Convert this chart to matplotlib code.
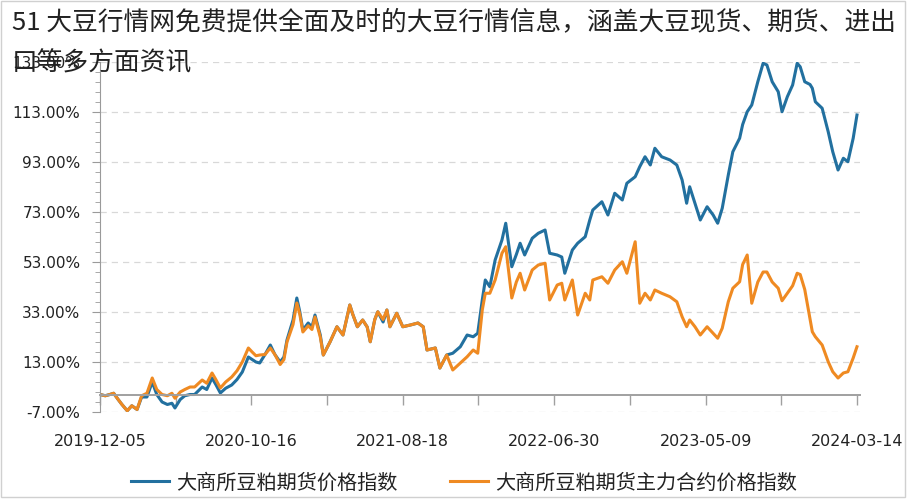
import matplotlib.pyplot as plt
from matplotlib.patches import Rectangle
import numpy as np

plt.rcParams['font.family'] = ['DejaVu Sans', 'Noto Sans CJK SC']

title = "51 大豆行情网免费提供全面及时的大豆行情信息，涵盖大豆现货、期货、进出\n口等多方面资讯"
label_index = "大商所豆粕期货价格指数"
label_main = "大商所豆粕期货主力合约价格指数"
date_labels = ['2019-12-05', '2020-10-16', '2021-08-18', '2022-06-30', '2023-05-09', '2024-03-14']

# trading-day position (0..1000 across the period)
day = [0, 7, 13, 18, 24, 29, 36, 42, 49, 55, 62, 69, 75, 82, 89, 95, 99, 106, 112, 119,
       125, 135, 141, 148, 153, 159, 166, 174, 181, 188, 196, 201, 206, 211, 218, 225, 231, 238, 243, 247,
       255, 260, 264, 268, 275, 280, 284, 291, 295, 304, 313, 321, 330, 334, 340, 347, 353, 357, 363, 367,
       374, 379, 383, 392, 400, 410, 420, 427, 432, 443, 449, 458, 466, 476, 485, 493, 499, 505, 509, 515,
       522, 531, 536, 544, 550, 555, 561, 571, 579, 588, 594, 604, 610, 614, 624, 631, 641, 647, 651, 663,
       671, 680, 690, 696, 707, 713, 720, 727, 733, 742, 753, 762, 769, 775, 779, 786, 793, 802, 810, 816,
       822, 830, 836, 845, 849, 855, 861, 869, 876, 881, 888, 896, 901, 908, 915, 921, 925, 931, 938, 941,
       945, 954, 962, 968, 975, 982, 988, 995, 1000]

# 大商所豆粕期货价格指数 (%)
index_pct = [0, -0.5, 0, 0.5, -2, -4, -6.5, -4.5, -6, -1, -1, 5, 0, -3, -4, -3.5, -5.4, -2, -0.5, 0,
             0, 3, 2, 6.6, 4, 0.6, 2.5, 3.8, 6, 9, 15, 14, 13, 12.6, 16, 19.8, 16, 13, 15, 21.8,
             29.8, 38.6, 33, 25.8, 28.6, 27, 31.8, 23.8, 15.8, 21.1, 27.1, 23.8, 35.8, 32, 27.1, 29.8, 27, 21.1, 30, 33.1,
             29, 33.8, 27.1, 32.5, 27.1, 27.8, 28.6, 27.1, 17.8, 18.6, 10.6, 15.8, 16.5, 19.1, 23.8, 23.1, 24.5, 37.8, 45.8, 43.1,
             53.8, 61.8, 68.5, 51.1, 56, 60.5, 55.8, 62.5, 64.5, 65.8, 56.5, 55.8, 55, 48.5, 57.8, 60.5, 63.1, 69.8, 73.8, 77.1,
             71.8, 80.5, 77.8, 84.5, 87.1, 91.1, 95.1, 91.8, 98.5, 95.1, 93.8, 91.8, 85.8, 76.5, 83.1, 76.5, 69.8, 75.1, 71.8, 68.5,
             74.5, 87.8, 97.1, 102.5, 108, 113.1, 115.8, 125.1, 132.5, 131.8, 125.1, 121.1, 113.1, 119.1, 123.8, 132.5, 131.1, 125.1, 124, 122.5,
             117.1, 114.5, 105.1, 97.1, 89.8, 94.5, 93.1, 102.5, 111.8]

# 大商所豆粕期货主力合约价格指数 (%)
main_pct = [0, -0.5, 0, 0.5, -2, -4, -6.5, -4.5, -6, -0.5, 0.5, 6.6, 2, 0, -0.5, 0.5, -1.5, 1, 2, 3,
            3, 5.8, 4.5, 8.6, 6, 2.6, 5, 7, 9.5, 13, 18.6, 17, 15.5, 15.8, 16, 18.6, 16, 12, 14, 21,
            28, 36.6, 32, 25, 27.5, 26, 31, 23, 15.8, 21.1, 27.1, 23.8, 35.8, 32, 27.1, 29.8, 27, 21.1, 30, 33.1,
            30, 33.8, 27.1, 32.5, 27.1, 27.8, 28.6, 27.1, 17.8, 18.6, 10.6, 15.8, 9.8, 12.6, 15.1, 17.8, 16.5, 33.8, 40.5, 40.5,
            45.8, 56.5, 59.1, 38.6, 45, 48.5, 41.8, 49.8, 51.8, 52.5, 37.8, 43.8, 44.5, 37.8, 45.8, 31.8, 40.5, 37.8, 45.8, 47.1,
            44.5, 49.8, 53.1, 48.5, 61.1, 36.5, 40.5, 37.8, 41.8, 40.5, 39.1, 37.1, 31.1, 27.1, 29.8, 27.1, 23.8, 27.1, 24.5, 22.5,
            26.5, 37.1, 42.5, 45.1, 52, 55.8, 36.5, 45, 49, 49, 45, 42.5, 37.5, 40.5, 43.5, 48.5, 48, 42, 30, 25.1,
            23.1, 19.8, 13.1, 9.1, 6.6, 8.6, 9.1, 14.6, 19.1]

fig = plt.figure(figsize=(9.12, 5), dpi=100)
ax = fig.add_axes([100/912, 88/500, 760/912, 350/500])

ax.plot(day, index_pct, color='#22709f', lw=2.2, label=label_index)
ax.plot(day, main_pct, color='#ef8a22', lw=2.2, label=label_main)

ax.set_xlim(0, 1004)
ax.set_ylim(-7, 133)
ax.set_yticks(np.arange(-7, 134, 20))
ax.set_yticks(np.arange(-7, 134, 4), minor=True)
ax.set_yticklabels(['%.2f%%' % v for v in np.arange(-7, 134, 20)])
ax.grid(axis='y', color='#d8d8d8', lw=0.9, ls=(0, (5, 4)))
ax.set_axisbelow(True)

for s in ['top', 'right']:
    ax.spines[s].set_visible(False)
ax.spines['left'].set_color('#9a9a9a')
ax.spines['bottom'].set_position(('data', 0))
ax.spines['bottom'].set_color('#a0a0a0')
ax.spines['bottom'].set_linewidth(1.4)
ax.tick_params(axis='y', which='major', length=6, color='#9a9a9a', labelsize=11, pad=8, labelcolor='#222222')
ax.tick_params(axis='y', which='minor', length=3.5, color='#9a9a9a')
ax.set_xticks(np.arange(0, 1001, 100))
ax.tick_params(axis='x', length=7, color='#a0a0a0', width=1, labelbottom=False)

sec = ax.secondary_xaxis('bottom')
sec.set_xticks(np.arange(0, 1001, 200))
sec.set_xticklabels(date_labels)
sec.tick_params(length=0, pad=16, labelsize=11.5, labelcolor='#222222')
sec.spines['bottom'].set_visible(False)

fig.legend(loc='center', bbox_to_anchor=(0.509, 0.034), ncol=2, frameon=False,
           prop={'family': ['Noto Sans CJK SC'], 'size': 14.5}, handlelength=1.9,
           handletextpad=0.35, columnspacing=2.6, labelcolor='#222222')

fig.text(0.013, 0.982, title, ha='left', va='top', fontsize=18.5, linespacing=1.75,
         color='#222222', family=['Noto Sans CJK SC', 'DejaVu Sans'])

fig.patches.append(Rectangle((1/912, 3/500), 904/912, 496/500, transform=fig.transFigure,
                             fill=False, edgecolor='#d0d0d0', lw=1))

fig.savefig('out.png', dpi=100)
